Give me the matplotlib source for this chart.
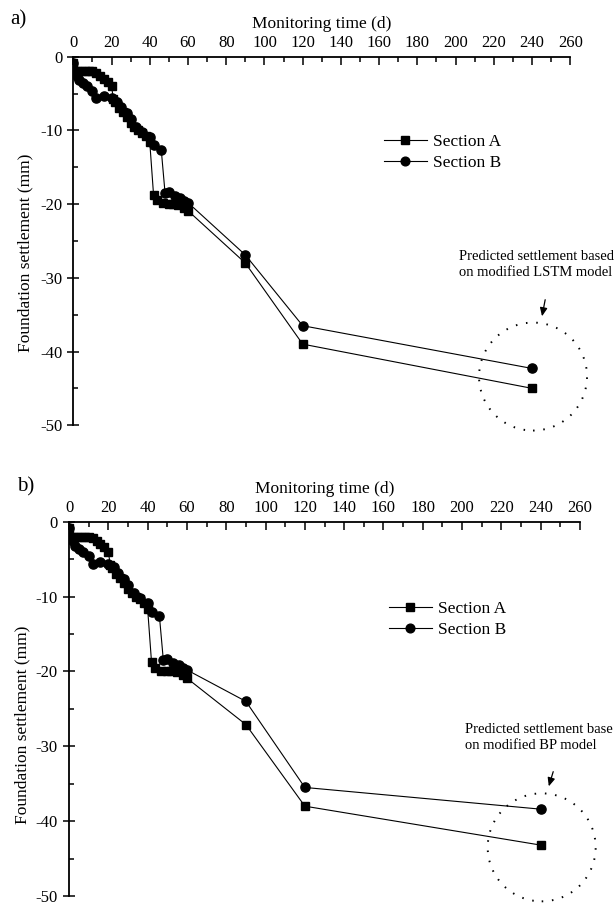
import matplotlib

matplotlib.use("Agg")

import matplotlib.pyplot as plt
from matplotlib.patches import Ellipse, FancyArrowPatch

plt.rcParams["font.family"] = ["Liberation Serif", "DejaVu Serif"]
plt.rcParams["axes.unicode_minus"] = False

# monitored days and settlement (mm), shared early part of both panels
dias_a = [0, 2, 4, 6, 8, 10, 12, 14, 16, 18, 20, 21, 22, 24, 26, 28, 30, 32, 34, 36, 38, 40,
          42, 44, 47, 50, 52, 55, 58, 60]
sec_a_obs = [-0.8, -2.0, -2.0, -2.0, -2.0, -2.0, -2.2, -2.6, -3.0, -3.4, -4.0, -5.8, -6.2,
             -7.0, -7.5, -8.2, -9.0, -9.5, -10.0, -10.3, -10.8, -11.6,
             -18.8, -19.5, -19.9, -20.0, -20.0, -20.1, -20.5, -20.9]

dias_b = [0, 2, 3, 5, 7, 10, 12, 16, 20, 23, 25, 28, 30, 33, 36, 40, 42, 46,
          48, 50, 53, 56, 58, 60]
sec_b_obs = [-0.8, -2.6, -3.2, -3.6, -4.0, -4.6, -5.6, -5.4, -5.6, -6.1, -6.8, -7.7, -8.4,
             -9.5, -10.2, -10.9, -12.0, -12.6,
             -18.5, -18.3, -18.9, -19.2, -19.6, -19.8]

# later points and prediction (day 240), per panel
dias_fim = [90, 120, 240]
lstm_a = [-28.0, -39.0, -45.0]
lstm_b = [-26.9, -36.5, -42.3]
bp_a = [-27.1, -38.0, -43.2]
bp_b = [-24.0, -35.5, -38.4]

paineis = [
    dict(rotulo="a)", rot_xy=(10, 20), fim_a=lstm_a, fim_b=lstm_b,
         texto="Predicted settlement based\non modified LSTM model",
         pos=[73.3 / 614, 1 - 425.2 / 906, 497 / 614, 368.5 / 906], ylab=(-0.081, 0.467),
         centro=(240.5, -43.4), texto_xy=(459, 250), seta=((545.7, 297), (541.5, 319)),
         leg=(375, 125)),
    dict(rotulo="b)", rot_xy=(17, 487), fim_a=bp_a, fim_b=bp_b,
         texto="Predicted settlement base\non modified BP model",
         pos=[69 / 614, 1 - 896 / 906, 511 / 614, 374.3 / 906], ylab=(-0.076, 0.457),
         centro=(240.5, -43.5), texto_xy=(465, 723), seta=((554, 769), (548, 789)),
         leg=(380, 592)),
]

fig = plt.figure(figsize=(6.14, 9.06), dpi=100)
H = 906

for p in paineis:
    ax = fig.add_axes(p["pos"])
    xa = dias_a + dias_fim
    ya = sec_a_obs + p["fim_a"]
    xb = dias_b + dias_fim
    yb = sec_b_obs + p["fim_b"]
    ax.plot(xa, ya, color="black", lw=0.8, marker="s", ms=5.6, label="Section A")
    ax.plot(xb, yb, color="black", lw=0.8, marker="o", ms=6.6, label="Section B")

    ax.set_xlim(0, 260)
    ax.set_ylim(-50, 0)
    ax.set_xticks(range(0, 261, 20))
    ax.set_xticks(range(10, 260, 20), minor=True)
    ax.set_yticks(range(-50, 1, 10))
    ax.set_yticks(range(-45, 0, 10), minor=True)
    ax.xaxis.tick_top()
    ax.xaxis.set_label_position("top")
    ax.spines["right"].set_visible(False)
    ax.spines["bottom"].set_visible(False)
    ax.spines["top"].set_linewidth(1.3)
    ax.spines["left"].set_linewidth(1.3)
    ax.tick_params(which="major", direction="in", length=6, width=1.1, labelsize=12, pad=4)
    ax.tick_params(which="minor", direction="in", length=3.5, width=1.1)
    ax.tick_params(axis="y", which="major", direction="inout", length=8)
    ax.set_xlabel("Monitoring time (d)", fontsize=12.5, labelpad=5)
    ax.set_ylabel("Foundation settlement (mm)", fontsize=12.5)
    ax.yaxis.set_label_coords(*p["ylab"])

    # dotted circle around the predicted points (radius in pixels)
    l, b, w, h = p["pos"]
    rx = 54 / (w * 614) * 260
    ry = 54 / (h * H) * 50
    ax.add_patch(Ellipse(p["centro"], 2 * rx, 2 * ry, fill=False, ec="black",
                         lw=1.4, ls=(0, (0.8, 4.5)), clip_on=False))

    fig.text(p["texto_xy"][0] / 614, 1 - p["texto_xy"][1] / H, p["texto"],
             fontsize=10.5, va="top", ha="left", linespacing=1.3)
    (x0, y0), (x1, y1) = p["seta"]
    fig.add_artist(FancyArrowPatch(
        (x0 / 614, 1 - y0 / H), (x1 / 614, 1 - y1 / H), transform=fig.transFigure,
        arrowstyle="-|>,head_length=5,head_width=2.2", color="black", lw=0.9))

    ax.legend(loc="upper left", bbox_to_anchor=(p["leg"][0] / 614, 1 - p["leg"][1] / H),
              bbox_transform=fig.transFigure, frameon=False, fontsize=12.5,
              handlelength=2.5, handletextpad=0.35, labelspacing=0.3, borderpad=0,
              markerscale=0.95)

    fig.text(p["rot_xy"][0] / 614, 1 - p["rot_xy"][1] / H, p["rotulo"], fontsize=15,
             ha="left", va="center")

fig.savefig("out.png", dpi=100)
